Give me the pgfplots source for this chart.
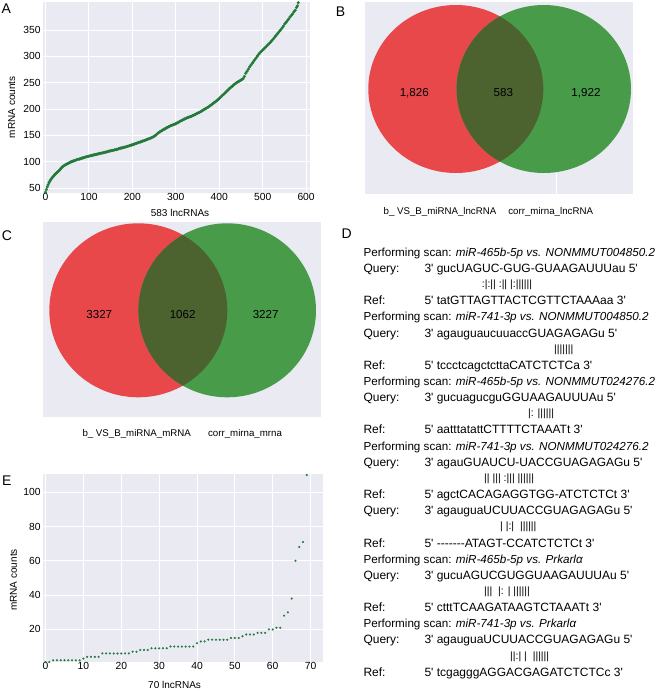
\documentclass[border=0pt]{standalone}
\usepackage{fontspec}
\setmainfont{Liberation Sans}
\newfontfamily\dfont{Liberation Sans}[Ligatures=TeXOff]
\usepackage{pgfplots}
\pgfplotsset{compat=1.18}
\definecolor{bggray}{RGB}{234,234,242}
\definecolor{dotgreen}{RGB}{36,122,58}
\definecolor{vred}{RGB}{232,72,74}
\definecolor{vgreen}{RGB}{71,155,73}
\definecolor{vover}{RGB}{76,99,48}
\pgfplotsset{
  sns/.style={
    scale only axis,
    axis background/.style={fill=bggray},
    axis line style={draw=none},
    grid=major,
    major grid style={white, line width=0.9pt},
    tick style={draw=none},
    tick label style={font=\fontsize{10.3}{12}\selectfont},
    /pgf/number format/assume math mode=true,
    xticklabel style={inner sep=0.5pt},
    yticklabel style={inner sep=2.5pt},
    label style={font=\fontsize{11.5}{13}\selectfont},
  },
  venn/.style={
    scale only axis,
    axis background/.style={fill=bggray},
    axis line style={draw=none},
    xtick=\empty, ytick=\empty,
  }
}
\newcommand{\dl}[3]{\node[anchor=base west, inner sep=0pt, font=\dfont\fontsize{12}{14}\selectfont] at (#1pt,-#2pt) {#3};}
\newcommand{\pl}[3]{\node[anchor=base west, inner sep=0pt, font=\dfont\fontsize{11.65}{14}\selectfont] at (#1pt,-#2pt) {#3};}
\newcommand{\bl}[3]{\node[anchor=base west, inner sep=0pt, font=\dfont\fontsize{10.5}{12}\selectfont] at (#1pt,-#2pt) {#3};}
\begin{document}
\begin{tikzpicture}
\useasboundingbox (0,0) rectangle (656pt,-691pt);

% ---------------- Panel A
\begin{axis}[sns, at={(43.3pt,-2pt)}, anchor=north west,
  width=266.7pt, height=190.7pt,
  xmin=-5, xmax=609, ymin=41, ymax=403.5,
  xtick={0,100,...,600}, ytick={50,100,...,350},
  xlabel={583 lncRNAs}, ylabel={mRNA counts},
  every axis x label/.style={at={(axis description cs:0.5126,0)}, anchor=center, yshift=-20pt},
  every axis y label/.style={at={(axis description cs:-0.1185,0.448)}, rotate=90, anchor=center},
]
\addplot[only marks, mark=*, mark size=1.35pt, color=dotgreen] coordinates {
(0,42) (2,47) (4,52) (6,56) (8,60) (10,63) (12,65.5) (14,68) (16,70) (18,72)
(20,74) (22,76) (24,77.5) (26,79) (28,80.5) (30,82) (32,83.5) (34,85.5) (36,87.5) (38,89.5)
(40,91) (43,92.5) (45,93.5) (48,95) (50,96) (53,97) (55,98) (58,99.2) (60,100) (63,100.8)
(65,101.5) (68,102.4) (70,103) (73,103.9) (75,104.5) (78,105) (80,105.5) (83,106.4) (85,107) (88,107.5)
(90,108) (93,108.9) (95,109.5) (98,110) (100,110.5) (103,111.1) (105,111.5) (108,112.1) (110,112.5) (113,113.1)
(115,113.5) (118,114.1) (120,114.5) (123,115.1) (125,115.5) (128,116.1) (130,116.5) (133,117.1) (135,117.5) (138,118.1)
(140,118.5) (143,119.1) (145,119.5) (148,120.1) (150,120.5) (153,121.1) (155,121.5) (158,122.1) (160,122.5) (163,123.1)
(165,123.5) (168,124.4) (170,125) (173,125.6) (175,126) (178,126.6) (180,127) (183,127.6) (185,128) (188,128.9)
(190,129.5) (193,130.4) (195,131) (198,131.6) (200,132) (203,132.9) (205,133.5) (208,134.4) (210,135) (213,135.9)
(215,136.5) (218,137.4) (220,138) (223,138.9) (225,139.5) (228,140.4) (230,141) (233,141.9) (235,142.5) (238,143.4)
(240,144) (243,145.2) (245,146) (248,147.2) (250,148) (253,149.8) (255,151) (258,153.4) (260,155) (263,156.5)
(265,157.5) (268,159) (270,160) (273,161.5) (275,162.5) (278,164) (280,165) (283,166.2) (285,167) (288,168.2)
(290,169) (293,169.9) (295,170.5) (298,171.4) (300,172) (303,173.5) (305,174.5) (308,176) (310,177) (313,178.2)
(315,179) (318,180.2) (320,181) (323,182.2) (325,183) (328,183.9) (330,184.5) (333,185.4) (335,186) (338,187.2)
(340,188) (343,189.2) (345,190) (348,191.2) (350,192) (353,193.2) (355,194) (358,195.5) (360,196.5) (363,198)
(365,199) (368,200.5) (370,201.5) (373,203) (375,204) (378,205.8) (380,207) (383,208.8) (385,210) (388,211.8)
(390,213) (393,215.1) (395,216.5) (398,218.6) (400,220) (403,222.4) (405,224) (408,226.4) (410,228) (413,230.4)
(415,232) (418,234.4) (420,236) (423,238.4) (425,240) (428,242.1) (430,243.5) (433,245.6) (435,247) (438,248.8)
(440,250) (443,251.5) (445,252.5) (448,254) (450,255) (453,256.8) (455,258) (458,262) (461,268) (464,272)
(467,276) (470,280) (473,283.5) (476,287) (479,290.5) (482,294) (485,297.5) (488,301) (491,304) (494,307)
(497,309.5) (500,312) (503,314.5) (506,317) (509,319.5) (512,322) (515,324.5) (518,327) (521,330) (524,333)
(527,336) (530,339) (533,342) (536,345) (539,348) (542,351) (545,354.5) (548,358) (551,362) (554,365)
(557,368) (560,371) (563,375) (566,378) (569,381) (572,385) (575,388) (578,393) (580,396) (582,402)
};
\end{axis}

% ---------------- Panel B
\begin{axis}[venn, at={(365pt,-2pt)}, anchor=north west,
  width=267.7pt, height=192pt, xmin=0, xmax=267.7, ymin=0, ymax=192]
\fill[vred] (axis cs:90.8,105) ellipse [x radius=87.5pt, y radius=84pt];
\fill[vgreen] (axis cs:178.8,105) ellipse [x radius=87.2pt, y radius=84pt];
\begin{scope}
\clip (axis cs:90.8,105) ellipse [x radius=87.5pt, y radius=84pt];
\fill[vover] (axis cs:178.8,105) ellipse [x radius=87.2pt, y radius=84pt];
\end{scope}
\draw[white, line width=0.5pt] (axis cs:191,21) -- (axis cs:191,0);
\end{axis}
\node[anchor=base, inner sep=0pt, font=\fontsize{11.6}{13}\selectfont] at (414.3pt,-96.9pt) {1,826};
\node[anchor=base, inner sep=0pt, font=\fontsize{11.6}{13}\selectfont] at (503.3pt,-96.9pt) {583};
\node[anchor=base, inner sep=0pt, font=\fontsize{11.6}{13}\selectfont] at (586pt,-96.9pt) {1,922};
\node[anchor=base, inner sep=0pt, font=\fontsize{9.7}{11}\selectfont] at (440pt,-214.2pt) {b\_ VS\_B\_miRNA\_lncRNA};
\node[anchor=base, inner sep=0pt, font=\fontsize{9.7}{11}\selectfont] at (550.7pt,-214.2pt) {corr\_mirna\_lncRNA};

% ---------------- Panel C
\begin{axis}[venn, at={(43.3pt,-221.7pt)}, anchor=north west,
  width=277.4pt, height=195.6pt, xmin=0, xmax=277.4, ymin=0, ymax=195.6]
\fill[vred] (axis cs:95,107) ellipse [x radius=89pt, y radius=87pt];
\fill[vgreen] (axis cs:183.9,107) ellipse [x radius=88.8pt, y radius=87pt];
\begin{scope}
\clip (axis cs:95,107) ellipse [x radius=89pt, y radius=87pt];
\fill[vover] (axis cs:183.9,107) ellipse [x radius=88.8pt, y radius=87pt];
\end{scope}
\end{axis}
\node[anchor=base, inner sep=0pt, font=\fontsize{11.6}{13}\selectfont] at (99.3pt,-318.5pt) {3327};
\node[anchor=base, inner sep=0pt, font=\fontsize{11.6}{13}\selectfont] at (182.7pt,-318.5pt) {1062};
\node[anchor=base, inner sep=0pt, font=\fontsize{11.6}{13}\selectfont] at (265.7pt,-318.5pt) {3227};
\node[anchor=base, inner sep=0pt, font=\fontsize{9.7}{11}\selectfont] at (136.7pt,-436.2pt) {b\_ VS\_B\_miRNA\_mRNA};
\node[anchor=base, inner sep=0pt, font=\fontsize{9.7}{11}\selectfont] at (245pt,-436.2pt) {corr\_mirna\_mrna};

% ---------------- Panel E
\begin{axis}[sns, at={(43.3pt,-474pt)}, anchor=north west,
  width=279.4pt, height=188pt,
  xmin=-0.6, xmax=73.2, ymin=1, ymax=110.6,
  xtick={0,10,...,70}, ytick={20,40,...,100},
  xlabel={70 lncRNAs}, ylabel={mRNA counts},
  every axis x label/.style={at={(axis description cs:0.470,0)}, anchor=center, yshift=-23pt},
  every axis y label/.style={at={(axis description cs:-0.107,0.436)}, rotate=90, anchor=center},
]
\addplot[only marks, mark=*, mark size=0.85pt, color=dotgreen] coordinates {
(0,1) (1,1) (2,2) (3,2) (4,2) (5,2) (6,2) (7,2) (8,2) (9,2)
(10,3) (11,4) (12,4) (13,4) (14,4) (15,6) (16,6) (17,6) (18,6) (19,6)
(20,6) (21,6) (22,6) (23,7) (24,7) (25,8) (26,8) (27,8) (28,9) (29,9)
(30,9) (31,9) (32,9) (33,10) (34,10) (35,10) (36,10) (37,10) (38,10) (39,10)
(40,12) (41,13) (42,13) (43,14) (44,14) (45,14) (46,14) (47,14) (48,14) (49,15)
(50,15) (51,15) (52,16) (53,17) (54,17) (55,17) (56,18) (57,18) (58,18) (59,20)
(60,20) (61,21) (62,21) (63,28) (64,30) (65,38) (66,60) (67,68) (68,71) (69,110)
};
\end{axis}

% ---------------- Panel D text
\pl{363.3}{256.3}{Performing scan: \textit{miR-465b-5p vs. NONMMUT004850.2}}
\dl{363.3}{272.45}{Query:}\dl{424.3}{272.45}{3' gucUAGUC-GUG-GUAAGAUUUau 5'}
\bl{481.7}{287.6}{:|:|| :|| |:||||||}
\dl{363.3}{304.75}{Ref:}\dl{424.3}{304.75}{5' tatGTTAGTTACTCGTTCTAAAaa 3'}
\pl{363.3}{320.9}{Performing scan: \textit{miR-741-3p vs. NONMMUT004850.2}}
\dl{363.3}{337.05}{Query:}\dl{424.3}{337.05}{3' agauguaucuuaccGUAGAGAGu 5'}
\bl{554}{352.2}{|||||||}
\dl{363.3}{369.35}{Ref:}\dl{424.3}{369.35}{5' tccctcagctcttaCATCTCTCa 3'}
\pl{363.3}{385.5}{Performing scan: \textit{miR-465b-5p vs. NONMMUT024276.2}}
\dl{363.3}{401.65}{Query:}\dl{424.3}{401.65}{3' gucuagucguGGUAAGAUUUAu 5'}
\bl{528}{416.8}{|: ||||||}
\dl{363.3}{433.95}{Ref:}\dl{424.3}{433.95}{5' aatttatattCTTTTCTAAATt 3'}
\pl{363.3}{450.1}{Performing scan: \textit{miR-741-3p vs. NONMMUT024276.2}}
\dl{363.3}{466.25}{Query:}\dl{424.3}{466.25}{3' agauGUAUCU-UACCGUAGAGAGu 5'}
\bl{484}{481.4}{|| ||| :||| ||||||}
\dl{363.3}{498.55}{Ref:}\dl{424.3}{498.55}{5' agctCACAGAGGTGG-ATCTCTCt 3'}
\dl{363.3}{514.7}{Query:}\dl{424.3}{514.7}{3' agauguaUCUUACCGUAGAGAGu 5'}
\bl{500}{529.85}{| |:|\ \ ||||||}
\dl{363.3}{547.0}{Ref:}\dl{424.3}{547.0}{5' -------ATAGT-CCATCTCTCt 3'}
\pl{363.3}{563.15}{Performing scan: \textit{miR-465b-5p vs. Prkarlα}}
\dl{363.3}{579.3}{Query:}\dl{424.3}{579.3}{3' gucuAGUCGUGGUAAGAUUUAu 5'}
\bl{484}{594.45}{|||\ \ |: | ||||||}
\dl{363.3}{611.6}{Ref:}\dl{424.3}{611.6}{5' ctttTCAAGATAAGTCTAAATt 3'}
\pl{363.3}{627.75}{Performing scan: \textit{miR-741-3p vs. Prkarlα}}
\dl{363.3}{643.9}{Query:}\dl{424.3}{643.9}{3' agauguaUCUUACCGUAGAGAGu 5'}
\bl{510}{659.05}{||:| |\ \ ||||||}
\dl{363.3}{676.2}{Ref:}\dl{424.3}{676.2}{5' tcgagggAGGACGAGATCTCTCc 3'}

% ---------------- Panel letters
\node[font=\fontsize{14}{16}\selectfont, inner sep=0pt] at (6.3pt,-8.3pt) {A};
\node[font=\fontsize{14}{16}\selectfont, inner sep=0pt] at (340.5pt,-12pt) {B};
\node[font=\fontsize{14}{16}\selectfont, inner sep=0pt] at (7pt,-235.3pt) {C};
\node[font=\fontsize{14}{16}\selectfont, inner sep=0pt] at (346.7pt,-233.3pt) {D};
\node[font=\fontsize{14}{16}\selectfont, inner sep=0pt] at (6.7pt,-480.5pt) {E};
\end{tikzpicture}
\end{document}
